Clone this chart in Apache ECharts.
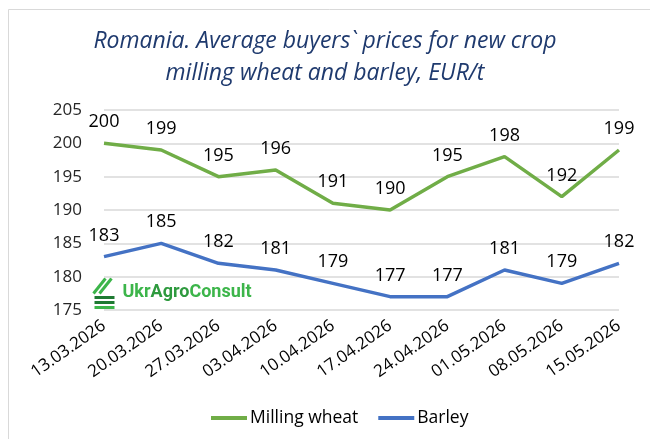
<!DOCTYPE html>
<html>
<head>
<meta charset="utf-8">
<script src="https://cdn.jsdelivr.net/npm/echarts@6/dist/echarts.min.js"></script>
<style>
  body { margin: 0; padding: 0; background: #fff; }
  #chart { width: 650px; height: 439px; }
</style>
</head>
<body>
<div id="chart"></div>
<script>
  var dates = ['13.03.2026', '20.03.2026', '27.03.2026', '03.04.2026', '10.04.2026',
               '17.04.2026', '24.04.2026', '01.05.2026', '08.05.2026', '15.05.2026'];
  var wheat = [200, 199, 195, 196, 191, 190, 195, 198, 192, 199];
  var barley = [183, 185, 182, 181, 179, 177, 177, 181, 179, 182];

  var chart = echarts.init(document.getElementById('chart'));
  var labelStyle = {
    show: true,
    position: 'top',
    distance: 12,
    color: '#000',
    fontSize: 18,
    fontFamily: 'Open Sans'
  };
  var option = {
    backgroundColor: '#fff',
    title: {
      text: 'Romania. Average buyers` prices for new crop\nmilling wheat and barley, EUR/t',
      left: 'center',
      top: 20,
      textStyle: {
        color: '#1F3A6E',
        fontSize: 23,
        fontStyle: 'italic',
        fontWeight: 'normal',
        fontFamily: 'Open Sans',
        lineHeight: 32
      }
    },
    graphic: [
      {
        type: 'rect',
        shape: { x: 8.5, y: 9.5, width: 700, height: 500 },
        style: { fill: 'none', stroke: '#d9d9d9', lineWidth: 1 },
        silent: true
      },
      {
        type: 'group',
        left: 91,
        top: 276,
        silent: true,
        children: [
          { type: 'line', shape: { x1: 0, y1: 15, x2: 12, y2: 0 }, style: { stroke: '#3CB54A', lineWidth: 3 } },
          { type: 'line', shape: { x1: 6, y1: 15, x2: 18, y2: 0 }, style: { stroke: '#3CB54A', lineWidth: 3 } },
          { type: 'line', shape: { x1: 1, y1: 19, x2: 21, y2: 19 }, style: { stroke: '#1E7A32', lineWidth: 3 } },
          { type: 'line', shape: { x1: 1, y1: 24, x2: 21, y2: 24 }, style: { stroke: '#1E7A32', lineWidth: 3 } },
          { type: 'line', shape: { x1: 1, y1: 29, x2: 21, y2: 29 }, style: { stroke: '#3CB54A', lineWidth: 3 } },
          {
            type: 'text',
            x: 29,
            y: 5,
            style: {
              text: '{a|Ukr}{b|Agro}{a|Consult}',
              rich: {
                a: { fill: '#3CB54A', fontSize: 18, fontWeight: 'bold', fontFamily: 'Roboto' },
                b: { fill: '#2E9A3E', fontSize: 18, fontWeight: 'bold', fontFamily: 'Roboto' }
              }
            }
          }
        ]
      }
    ],
    legend: {
      bottom: 7,
      left: 206,
      itemWidth: 36,
      itemHeight: 4,
      itemGap: 20,
      icon: 'rect',
      textStyle: { color: '#000', fontSize: 17.5, fontFamily: 'Open Sans', padding: [0, 0, 0, -2] },
      data: ['Milling wheat', 'Barley']
    },
    grid: { left: 104, right: 31, top: 110, bottom: 129 },
    xAxis: {
      type: 'category',
      data: dates,
      boundaryGap: false,
      axisLine: { show: false },
      axisTick: { show: false },
      axisLabel: {
        rotate: 35,
        interval: 0,
        margin: 14,
        color: '#000',
        fontSize: 17,
        fontFamily: 'Open Sans'
      }
    },
    yAxis: {
      type: 'value',
      min: 175,
      max: 205,
      interval: 5,
      axisLine: { show: false },
      axisTick: { show: false },
      splitLine: { lineStyle: { color: '#d9d9d9', width: 1.5 } },
      axisLabel: { color: '#262626', fontSize: 17, margin: 22, fontFamily: 'Open Sans' }
    },
    series: [
      {
        name: 'Milling wheat',
        type: 'line',
        data: wheat,
        symbol: 'circle',
        symbolSize: 0,
        showSymbol: true,
        color: '#70AD47',
        lineStyle: { width: 3.5, color: '#70AD47' },
        label: labelStyle
      },
      {
        name: 'Barley',
        type: 'line',
        data: barley,
        symbol: 'circle',
        symbolSize: 0,
        showSymbol: true,
        color: '#4472C4',
        lineStyle: { width: 3.5, color: '#4472C4' },
        label: labelStyle
      }
    ]
  };
  chart.setOption(option);
</script>
</body>
</html>
